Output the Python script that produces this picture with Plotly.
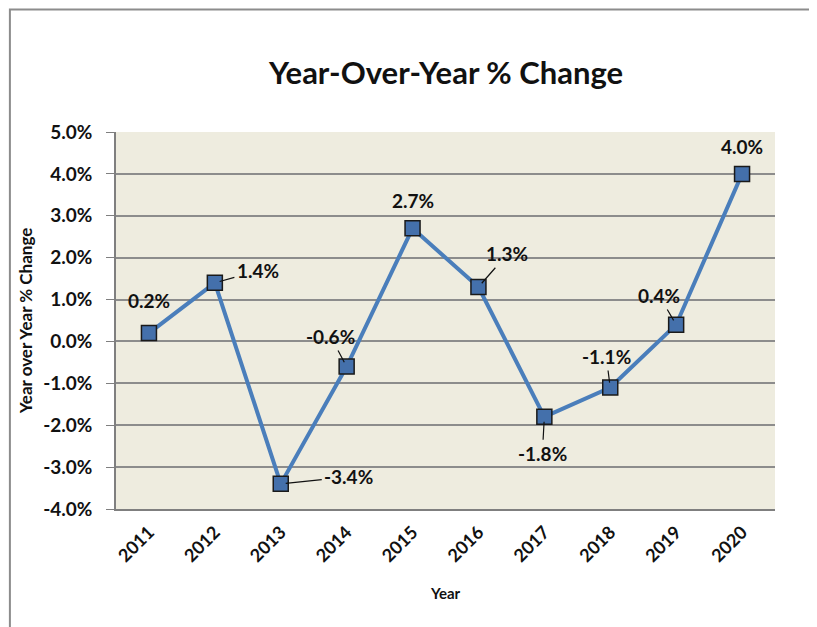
import plotly.graph_objects as go

years = ["2011", "2012", "2013", "2014", "2015", "2016", "2017", "2018", "2019", "2020"]
pct_change = [0.2, 1.4, -3.4, -0.6, 2.7, 1.3, -1.8, -1.1, 0.4, 4.0]
y_tick_vals = [-4, -3, -2, -1, 0, 1, 2, 3, 4, 5]
y_tick_text = ["-4.0%", "-3.0%", "-2.0%", "-1.0%", "0.0%", "1.0%", "2.0%", "3.0%", "4.0%", "5.0%"]
# label offsets (pixels) from point to label centre; lead = draw leader line
label_dx = [0, 43, 68, -16, 0, 29, -2, -4, -17, 0]
label_dy = [-33, -12, -7, -30, -28, -33, 37, -31, -29, -27]
label_lead = [False, True, True, True, False, True, True, True, True, False]

FONT = "Lato"
PAD = 8  # page body margin

fig = go.Figure()
fig.add_trace(go.Scatter(
    x=years, y=pct_change, mode="lines+markers",
    line=dict(color="#4a7ebb", width=4),
    marker=dict(symbol="square", size=15, color="#4470ab",
                line=dict(color="#1a1a1a", width=1.5)),
    showlegend=False, hoverinfo="skip",
))

annotations = []
for i, (yr, v, dx, dy, lead) in enumerate(zip(years, pct_change, label_dx, label_dy, label_lead)):
    txt = f"{v:.1f}%"
    if lead:
        annotations.append(dict(
            x=i, y=v, xref="x", yref="y", text=txt,
            showarrow=True, arrowhead=0, arrowwidth=1.2, arrowcolor="#111",
            ax=dx, ay=dy, standoff=5, startstandoff=1,
            font=dict(family=FONT, size=19, color="#111", weight="bold"),
        ))
    else:
        annotations.append(dict(
            x=i, y=v, xref="x", yref="y", text=txt, showarrow=False,
            xshift=dx, yshift=-dy,
            font=dict(family=FONT, size=19, color="#111", weight="bold"),
        ))

annotations.append(dict(
    text="Year-Over-Year % Change", x=0.5, y=1.16, xref="paper", yref="paper",
    xanchor="center", yanchor="middle", showarrow=False,
    font=dict(family=FONT, size=31, color="#111", weight="bold"),
))

fig.update_layout(
    width=817 - PAD, height=627 - PAD,
    margin=dict(l=116 - PAD, r=42, t=132 - PAD, b=118, autoexpand=False),
    paper_bgcolor="white",
    plot_bgcolor="#eeecdf",
    font=dict(family=FONT, color="#111"),
    annotations=annotations,
    shapes=[dict(type="rect", xref="paper", yref="paper",
                 x0=-0.161, x1=1.055, y0=-0.33, y1=1.325,
                 line=dict(color="#8c8c8c", width=2), fillcolor="rgba(0,0,0,0)",
                 layer="below")],
)

fig.update_xaxes(
    type="category", categoryorder="array", categoryarray=years,
    range=[-0.5, len(years) - 0.5], autorange=False,
    showgrid=False, showline=True, linecolor="#7f7f7f", linewidth=1.5,
    ticks="", tickangle=-45, ticklabelstandoff=4,
    tickfont=dict(family=FONT, size=18, color="#111", weight="bold"),
    title=dict(text="Year", font=dict(family=FONT, size=15, color="#111", weight="bold"), standoff=23),
)
fig.update_yaxes(
    range=[-4, 5], tickvals=y_tick_vals, ticktext=y_tick_text,
    showgrid=True, gridcolor="#8c8c8c", gridwidth=1.5, zeroline=False,
    showline=True, linecolor="#7f7f7f", linewidth=1.5,
    ticks="outside", ticklen=8, tickcolor="#7f7f7f", ticklabelstandoff=10,
    tickfont=dict(family=FONT, size=19, color="#111", weight="bold"),
    title=dict(text="Year over Year % Change", font=dict(family=FONT, size=17, color="#111", weight="bold"), standoff=6),
)

fig.write_html("out.html")
